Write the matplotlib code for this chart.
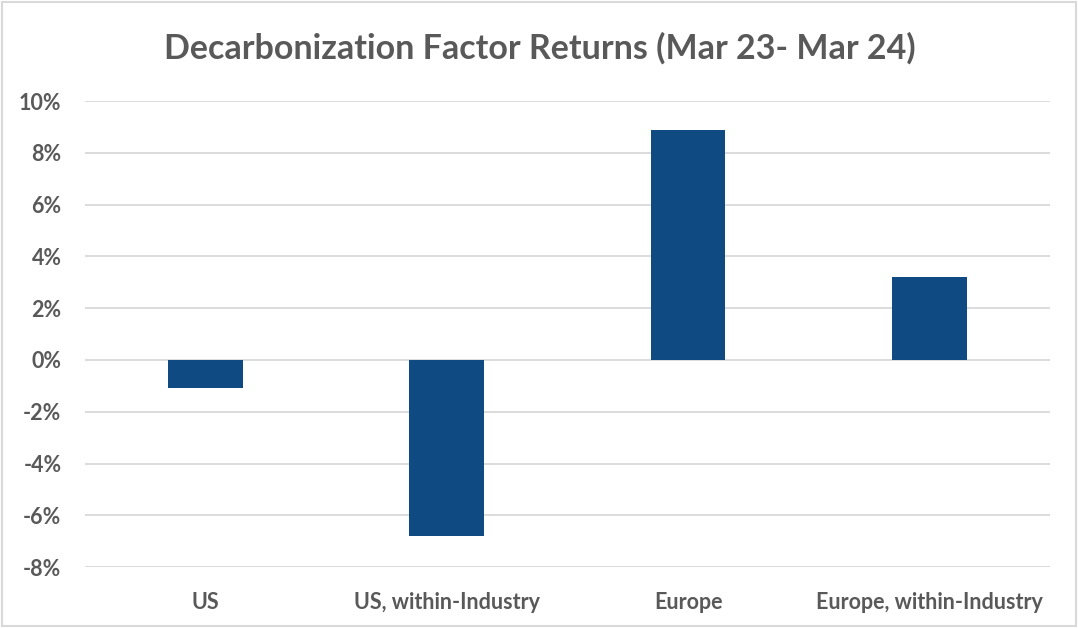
import numpy as np
import matplotlib
matplotlib.use("Agg")
from matplotlib import pyplot as plt
from matplotlib.patches import Rectangle
from matplotlib.ticker import FuncFormatter

categories = ["US", "US, within-Industry", "Europe", "Europe, within-Industry"]
returns = [-1.1, -6.8, 8.9, 3.2]
yticks = [-8, -6, -4, -2, 0, 2, 4, 6, 8, 10]

plt.rcParams['font.family'] = ['Lato', 'DejaVu Sans']
grey = '#595959'

fig = plt.figure(figsize=(10.78, 6.28), dpi=100)
ax = fig.add_axes([0.0789, 0.097, 0.895, 0.742])

x = np.arange(len(categories))
ax.bar(x, returns, width=0.31, color='#0F4A83', zorder=3)

ax.set_xlim(-0.5, len(categories) - 0.5)
ax.set_ylim(-8, 10)
ax.set_yticks(yticks)
ax.yaxis.set_major_formatter(FuncFormatter(lambda v, p: "{:.0f}%".format(v)))
ax.set_xticks(x)
ax.set_xticklabels(categories)
ax.grid(axis='y', color='#d9d9d9', linewidth=1.3, zorder=0)
for s in ax.spines.values():
    s.set_visible(False)
ax.tick_params(length=0, labelsize=15.5, labelcolor=grey)
ax.tick_params(axis='y', pad=17)
ax.tick_params(axis='x', pad=18)
for lab in ax.get_xticklabels() + ax.get_yticklabels():
    lab.set_fontweight('bold')

fig.text(0.501, 0.923, "Decarbonization Factor Returns (Mar 23- Mar 24)",
         ha='center', va='center', fontsize=24.5, fontweight='bold', color=grey)

# light border around the chart
fig.patches.append(Rectangle((0.002, 0.003), 0.996, 0.994, transform=fig.transFigure,
                             fill=False, edgecolor='#d9d9d9', linewidth=1.5))

fig.savefig("out.png", dpi=100)
